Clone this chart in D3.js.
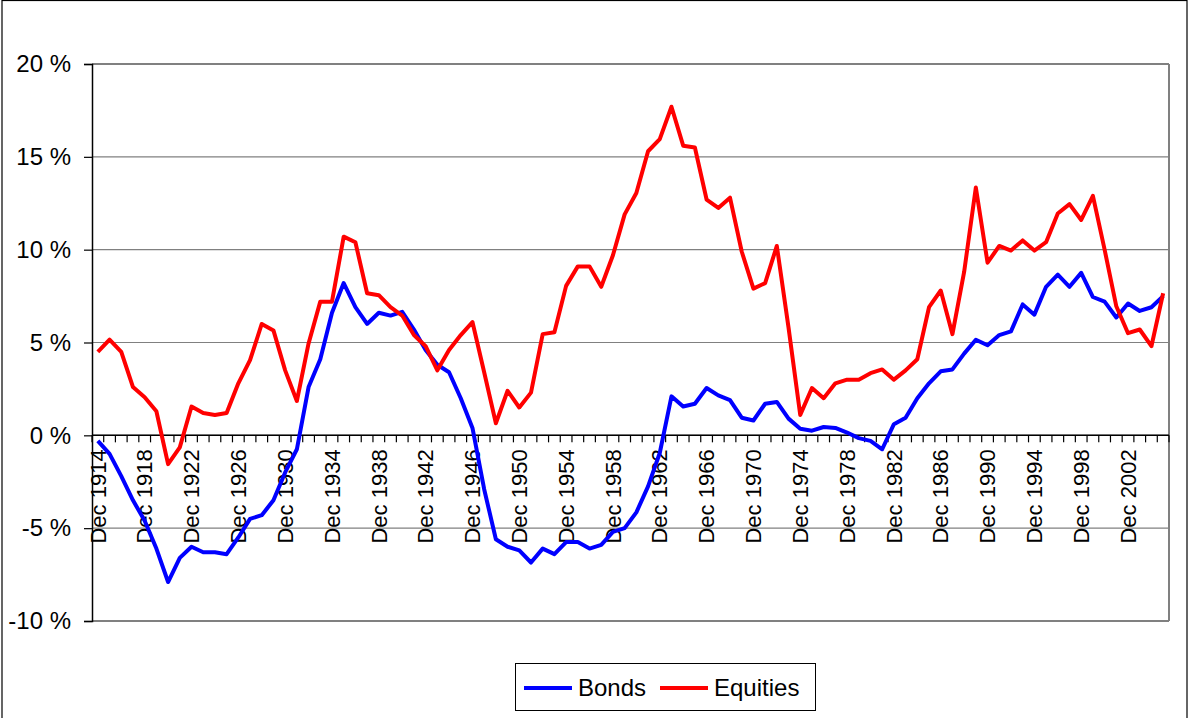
<!DOCTYPE html>
<html>
<head>
<meta charset="utf-8">
<script src="https://cdn.jsdelivr.net/npm/d3@7"></script>
<style>
body { margin: 0; background: #fff; }
svg { display: block; font-family: "Liberation Sans", Arial, sans-serif; }
</style>
</head>
<body>
<svg id="chart" width="1189" height="718"></svg>
<script>
// years Dec 1914 .. Dec 2005
var years = d3.range(1914, 2006);
var categories = years.map(function(y){ return "Dec " + y; });

var bonds = [
  -0.3, -1.0, -2.2, -3.5, -4.6, -6.1, -7.9, -6.6, -6.0, -6.3,
  -6.3, -6.4, -5.5, -4.5, -4.3, -3.5, -2.0, -0.75, 2.6, 4.1,
  6.6, 8.2, 6.9, 6.0, 6.6, 6.45, 6.65, 5.7, 4.6, 3.8,
  3.4, 2.0, 0.4, -2.9, -5.6, -6.0, -6.2, -6.85, -6.1, -6.4,
  -5.75, -5.75, -6.1, -5.9, -5.2, -5.0, -4.15, -2.75, -0.95, 2.1,
  1.55, 1.7, 2.55, 2.15, 1.9, 0.95, 0.8, 1.7, 1.8, 0.9,
  0.35, 0.25, 0.45, 0.4, 0.15, -0.15, -0.3, -0.75, 0.6, 0.95,
  2.0, 2.8, 3.45, 3.55, 4.4, 5.15, 4.85, 5.4, 5.6, 7.05,
  6.5, 8.0, 8.65, 8.0, 8.75, 7.45, 7.2, 6.35, 7.1, 6.7,
  6.9, 7.5
];

var equities = [
  4.5, 5.15, 4.5, 2.6, 2.05, 1.3, -1.55, -0.65, 1.55, 1.2,
  1.1, 1.2, 2.8, 4.05, 6.0, 5.65, 3.5, 1.85, 4.95, 7.2,
  7.2, 10.7, 10.4, 7.65, 7.55, 6.9, 6.45, 5.4, 4.8, 3.5,
  4.6, 5.4, 6.1, 3.4, 0.65, 2.4, 1.5, 2.3, 5.45, 5.55,
  8.05, 9.1, 9.1, 8.0, 9.7, 11.9, 13.05, 15.3, 15.95, 17.7,
  15.6, 15.5, 12.7, 12.25, 12.8, 9.9, 7.9, 8.2, 10.2, 5.8,
  1.1, 2.55, 2.0, 2.8, 3.0, 3.0, 3.35, 3.55, 3.0, 3.5,
  4.1, 6.9, 7.8, 5.45, 8.8, 13.35, 9.3, 10.2, 9.95, 10.5,
  9.95, 10.4, 11.95, 12.45, 11.6, 12.9, 10.0, 6.95, 5.5, 5.7,
  4.8, 7.65
];

var yTicks = [-10, -5, 0, 5, 10, 15, 20];

var svg = d3.select("#chart");
var plotLeft = 92, plotRight = 1169, plotTop = 64, plotBottom = 621;

var x = d3.scaleBand().domain(categories).range([plotLeft, plotRight]);
var y = d3.scaleLinear().domain([-10, 20]).range([plotBottom, plotTop]);

// outer frame
svg.append("rect")
  .attr("x", 2).attr("y", 0.5)
  .attr("width", 1185).attr("height", 740)
  .attr("fill", "none").attr("stroke", "#000").attr("stroke-width", 1.2);

// gridlines
svg.append("g")
  .selectAll("line")
  .data(yTicks)
  .enter().append("line")
  .attr("x1", plotLeft).attr("x2", plotRight)
  .attr("y1", function(d){ return y(d); })
  .attr("y2", function(d){ return y(d); })
  .attr("stroke", "#808080")
  .attr("stroke-width", function(d){ return (d == 20 || d == -10) ? 2 : 1.2; });

// right border of plot
svg.append("line")
  .attr("x1", plotRight).attr("x2", plotRight)
  .attr("y1", plotTop).attr("y2", plotBottom)
  .attr("stroke", "#808080").attr("stroke-width", 2);

// y axis
var yAxis = d3.axisLeft(y)
  .tickValues(yTicks)
  .tickSize(8)
  .tickFormat(function(d){ return d + " %"; });

var yG = svg.append("g")
  .attr("transform", "translate(" + plotLeft + ",0)")
  .call(yAxis);
yG.select(".domain").attr("stroke", "#000").attr("stroke-width", 1.5);
yG.selectAll(".tick line").attr("stroke", "#000").attr("stroke-width", 1.2);
yG.selectAll(".tick text")
  .attr("x", -21)
  .attr("font-size", 24)
  .attr("font-family", "Liberation Sans, Arial, sans-serif")
  .attr("fill", "#000");

// x axis at 0 %
svg.append("line")
  .attr("x1", plotLeft).attr("x2", plotRight)
  .attr("y1", y(0)).attr("y2", y(0))
  .attr("stroke", "#000").attr("stroke-width", 1.5);

// tick marks between categories
var bounds = categories.map(function(c){ return x(c); }).concat([plotRight]);
svg.append("g")
  .selectAll("line")
  .data(bounds)
  .enter().append("line")
  .attr("x1", function(d){ return d; })
  .attr("x2", function(d){ return d; })
  .attr("y1", y(0)).attr("y2", y(0) + 7)
  .attr("stroke", "#000").attr("stroke-width", 1.2);

// category labels, every 4th
var labelCats = categories.filter(function(c, i){ return i % 4 == 0; });
svg.append("g")
  .selectAll("text")
  .data(labelCats)
  .enter().append("text")
  .attr("transform", function(d){
    return "translate(" + (x(d) + x.bandwidth() / 2) + "," + (y(0) + 14) + ") rotate(-90)";
  })
  .attr("dy", "0.35em")
  .attr("text-anchor", "end")
  .attr("font-size", 22)
  .attr("fill", "#000")
  .text(function(d){ return d; });

// lines
var line = d3.line()
  .x(function(d, i){ return x(categories[i]) + x.bandwidth() / 2; })
  .y(function(d){ return y(d); });

svg.append("path")
  .datum(bonds)
  .attr("d", line)
  .attr("fill", "none")
  .attr("stroke", "#0000ff")
  .attr("stroke-width", 4)
  .attr("stroke-linejoin", "round");

svg.append("path")
  .datum(equities)
  .attr("d", line)
  .attr("fill", "none")
  .attr("stroke", "#ff0000")
  .attr("stroke-width", 4)
  .attr("stroke-linejoin", "round");

// legend
var legend = svg.append("g");
legend.append("rect")
  .attr("x", 515.5).attr("y", 663.5)
  .attr("width", 300).attr("height", 47)
  .attr("fill", "#fff").attr("stroke", "#000").attr("stroke-width", 1);

var items = [
  { name: "Bonds", color: "#0000ff", x: 524 },
  { name: "Equities", color: "#ff0000", x: 660 }
];
items.forEach(function(it){
  legend.append("line")
    .attr("x1", it.x).attr("x2", it.x + 48)
    .attr("y1", 688).attr("y2", 688)
    .attr("stroke", it.color).attr("stroke-width", 4);
  legend.append("text")
    .attr("x", it.x + 54).attr("y", 696)
    .attr("font-size", 24)
    .attr("fill", "#000")
    .text(it.name);
});
</script>
</body>
</html>
